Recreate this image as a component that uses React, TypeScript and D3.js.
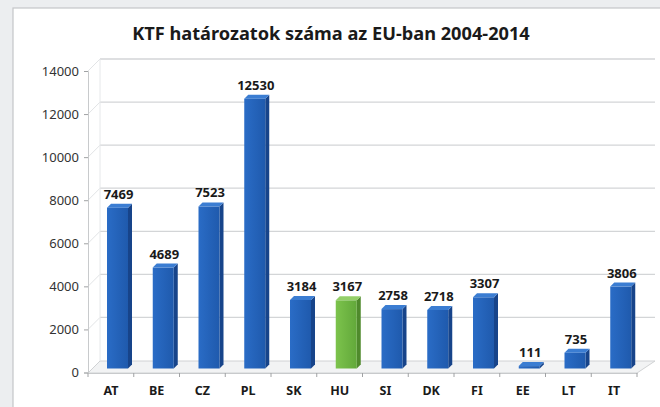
import React, { useEffect, useRef } from 'react';
import * as d3 from 'd3';

const categories = ['AT', 'BE', 'CZ', 'PL', 'SK', 'HU', 'SI', 'DK', 'FI', 'EE', 'LT', 'IT'];
const values = [7469, 4689, 7523, 12530, 3184, 3167, 2758, 2718, 3307, 111, 735, 3806];
const yTicks = [0, 2000, 4000, 6000, 8000, 10000, 12000, 14000];
const highlight = 'HU';
const title = 'KTF határozatok száma az EU-ban 2004-2014';

const FONT = "'Noto Sans', 'Open Sans', sans-serif";

export default function App() {
  const ref = useRef<SVGSVGElement>(null);

  useEffect(() => {
    const svg = d3.select(ref.current);
    svg.selectAll('*').remove();

    const x = d3.scaleBand<string>().domain(categories).range([88, 637]);
    const y = d3.scaleLinear().domain([0, 14000]).range([372.5, 71]);

    // depth of the 3d box (wall) and of the bars
    const wdx = 12, wdy = -12;
    const boff = 19, bw = 21, bside = 4, bdy = -4, btop = 4;

    const defs = svg.append('defs');
    const mk = (id: string, c1: string, c2: string) => {
      const g = defs.append('linearGradient').attr('id', id).attr('x1', 0).attr('x2', 1).attr('y1', 0).attr('y2', 0);
      g.append('stop').attr('offset', 0).attr('stop-color', c1);
      g.append('stop').attr('offset', 1).attr('stop-color', c2);
    };
    mk('gBlue', '#2a6cc6', '#1f5aad');
    mk('gGreen', '#7cc34c', '#62a83a');

    // page background and panel
    svg.append('rect').attr('width', 660).attr('height', 407).attr('fill', '#eceef0');
    svg.append('rect').attr('x', 13).attr('y', 8).attr('width', 660).attr('height', 420)
      .attr('fill', '#ffffff').attr('stroke', '#c4c6c8').attr('stroke-width', 1.2);

    // title
    svg.append('text').attr('x', 331).attr('y', 40).attr('text-anchor', 'middle')
      .attr('font-family', FONT).attr('font-weight', 'bold').attr('font-size', 18.2)
      .attr('fill', '#1a1a1a').text(title);

    // floor
    svg.append('polygon')
      .attr('points', [[88, 373], [637, 373], [655, 361], [100, 361]].map(p => p.join(',')).join(' '))
      .attr('fill', '#f2f3f4').attr('stroke', '#d0d2d4').attr('stroke-width', 1);

    // back wall gridlines & side wall lines
    const grid = svg.append('g');
    yTicks.forEach(t => {
      if (t === 0) return;
      grid.append('line').attr('x1', 88 + wdx).attr('x2', 655).attr('y1', y(t) + wdy).attr('y2', y(t) + wdy)
        .attr('stroke', '#d3d5d7').attr('stroke-width', 1.3);
      grid.append('line').attr('x1', 88).attr('x2', 88 + wdx).attr('y1', y(t)).attr('y2', y(t) + wdy)
        .attr('stroke', '#e2e4e6').attr('stroke-width', 1);
    });
    grid.append('line').attr('x1', 88 + wdx).attr('x2', 88 + wdx).attr('y1', y(14000) + wdy).attr('y2', 361)
      .attr('stroke', '#e6e8ea');

    // y axis
    const yAxis = svg.append('g').attr('transform', 'translate(88,0)')
      .call(d3.axisLeft(y).tickValues(yTicks).tickSize(4).tickPadding(5).tickFormat(d3.format('d')));
    yAxis.select('.domain').attr('stroke', '#c8cacc');
    yAxis.selectAll('.tick line').attr('stroke', '#a0a2a4');
    yAxis.selectAll('text').attr('font-family', FONT).attr('font-size', 13).attr('fill', '#333');

    // x axis
    const xAxis = svg.append('g').attr('transform', 'translate(0,373)')
      .call(d3.axisBottom(x).tickSize(0).tickPadding(13));
    xAxis.select('.domain').attr('stroke', '#c8cacc');
    xAxis.selectAll('text').attr('font-family', FONT).attr('font-weight', 'bold').attr('font-size', 12.5).attr('fill', '#1a1a1a');
    const edges = [...categories.map(c => x(c) as number), 637];
    svg.append('g').selectAll('line').data(edges).enter().append('line')
      .attr('x1', d => d).attr('x2', d => d).attr('y1', 373).attr('y2', 377).attr('stroke', '#a0a2a4');

    // bars
    const bars = svg.append('g').selectAll('g').data(categories).enter().append('g');
    bars.each(function (c, i) {
      const g = d3.select(this);
      const v = values[i];
      const green = c === highlight;
      const x0 = (x(c) as number) + boff;
      const yb = y(0) + bdy;
      const yt = y(v) + bdy;
      const front = green ? 'url(#gGreen)' : 'url(#gBlue)';
      const side = green ? '#4f8a2c' : '#17448a';
      const top = green ? '#94cf68' : '#3b7dd2';
      g.append('polygon')
        .attr('points', [[x0 + bw, yb], [x0 + bw + bside, yb - btop], [x0 + bw + bside, yt - btop], [x0 + bw, yt]].map(p => p.join(',')).join(' '))
        .attr('fill', side);
      g.append('rect').attr('x', x0).attr('y', yt).attr('width', bw).attr('height', Math.max(0, yb - yt)).attr('fill', front);
      g.append('polygon')
        .attr('points', [[x0, yt], [x0 + bside, yt - btop], [x0 + bw + bside, yt - btop], [x0 + bw, yt]].map(p => p.join(',')).join(' '))
        .attr('fill', top);
      g.append('text').attr('x', x0 + bw / 2 + 1).attr('y', yt - btop - 5).attr('text-anchor', 'middle')
        .attr('font-family', FONT).attr('font-weight', 'bold').attr('font-size', 13).attr('fill', '#1a1a1a')
        .text(v);
    });
  }, []);

  return (
    <svg ref={ref} width={660} height={407} style={{ position: 'absolute', left: 0, top: 0 }} />
  );
}
